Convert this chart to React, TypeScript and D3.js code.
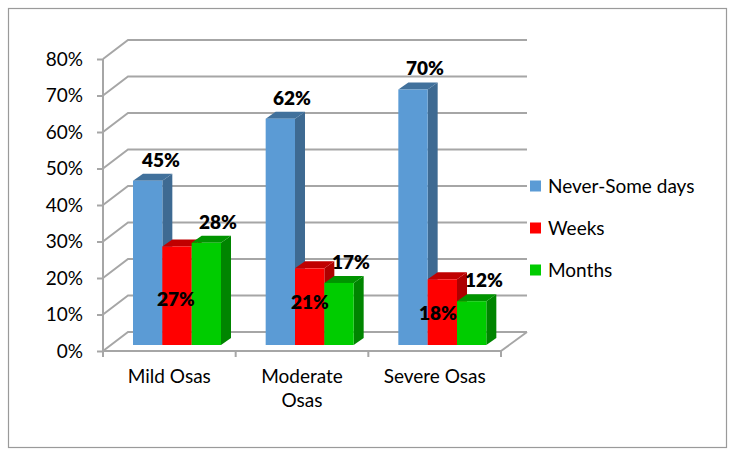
import * as d3 from 'd3';
import React, { useEffect, useRef } from 'react';

const categories = [['Mild Osas'], ['Moderate', 'Osas'], ['Severe Osas']];
const categoryKeys = ['Mild Osas', 'Moderate Osas', 'Severe Osas'];
const seriesNames = ['Never-Some days', 'Weeks', 'Months'];
const neverSomeDays = [45, 62, 70];
const weeks = [27, 21, 18];
const months = [28, 17, 12];
const yTicks = [0, 10, 20, 30, 40, 50, 60, 70, 80];

const seriesValues = [neverSomeDays, weeks, months];

// front, top, side
const seriesColors = [
  ['#5B9BD5', '#41719C', '#3E6A92'],
  ['#FF0000', '#C00000', '#AE0000'],
  ['#00CC00', '#009400', '#008500'],
];

const App: React.FC = () => {
  const svgRef = useRef<SVGSVGElement>(null);

  useEffect(() => {
    if (!svgRef.current) return;
    const svg = d3.select(svgRef.current);
    svg.selectAll('*').remove();

    const font = 'Lato, Carlito, sans-serif';
    const gridColor = '#A6A6A6';
    const left = 103;
    const right = 501;
    const axisY0 = 351;
    const axisY80 = 59;
    const depth = { x: 25, y: -19 };
    const barPlane = { x: 0, y: -6 };
    const barDepth = { x: 10, y: -7 };

    // frame
    svg.append('rect')
      .attr('x', 8.5)
      .attr('y', 8.5)
      .attr('width', 718)
      .attr('height', 439)
      .attr('fill', '#fff')
      .attr('stroke', '#9A9A9A')
      .attr('stroke-width', 1.2);

    const xScale = d3.scaleBand<string>()
      .domain(categoryKeys)
      .range([left, right]);

    const yScale = d3.scaleLinear()
      .domain([0, 80])
      .range([axisY0, axisY80]);

    const groupScale = d3.scaleBand<string>()
      .domain(seriesNames)
      .range([30, 118]);

    // back wall grid lines with the slanted side-wall part
    const line = d3.line();
    const grid = svg.append('g')
      .attr('fill', 'none')
      .attr('stroke', gridColor)
      .attr('stroke-width', 2);

    yTicks.forEach(t => {
      const y = yScale(t);
      grid.append('path').attr('d', line([
        [left, y],
        [left + depth.x, y + depth.y],
        [right + depth.x + 1, y + depth.y],
      ]));
    });

    // floor right edge + front axis + left axis
    grid.append('path').attr('d', line([
      [right, axisY0],
      [right + depth.x + 1, axisY0 + depth.y],
    ]));
    grid.append('path').attr('d', line([[left, axisY0], [right, axisY0]]));
    grid.append('path').attr('d', line([[left, axisY80], [left, axisY0]]));

    // y axis
    const yAxis = d3.axisLeft(yScale)
      .tickValues(yTicks)
      .tickSize(6)
      .tickPadding(14)
      .tickFormat(d => `${d}%`);

    const yG = svg.append('g')
      .attr('transform', `translate(${left},0)`)
      .call(yAxis);
    yG.select('.domain').remove();
    yG.selectAll('line').attr('stroke', gridColor).attr('stroke-width', 2);
    yG.selectAll('text')
      .attr('fill', '#000')
      .style('font-family', font)
      .style('font-size', '19px');

    // x axis ticks sit on the band edges
    const xEdges = [...categoryKeys.map(c => xScale(c) as number), right];
    xEdges.forEach(x => {
      grid.append('path').attr('d', line([[x, axisY0], [x, axisY0 + 6]]));
    });

    categories.forEach((lines, i) => {
      const cx = (xScale(categoryKeys[i]) as number) + xScale.bandwidth() / 2;
      lines.forEach((txt, j) => {
        svg.append('text')
          .attr('x', cx)
          .attr('y', 383 + j * 24)
          .attr('text-anchor', 'middle')
          .style('font-family', font)
          .style('font-size', '19px')
          .text(txt);
      });
    });

    // bars, back to front order is just series order here
    const barY = (v: number) => yScale(v) + barPlane.y;
    categoryKeys.forEach((cat, ci) => {
      seriesNames.forEach((name, si) => {
        const v = seriesValues[si][ci];
        const x0 = (xScale(cat) as number) + (groupScale(name) as number);
        const x1 = x0 + groupScale.bandwidth();
        const yTop = barY(v);
        const yBot = barY(0);
        const dx = barDepth.x;
        const dy = barDepth.y;
        const [front, top, side] = seriesColors[si];

        svg.append('path')
          .attr('fill', side)
          .attr('d', line([[x1, yTop], [x1 + dx, yTop + dy], [x1 + dx, yBot + dy], [x1, yBot]]));
        svg.append('path')
          .attr('fill', top)
          .attr('d', line([[x0, yTop], [x0 + dx, yTop + dy], [x1 + dx, yTop + dy], [x1, yTop]]));
        svg.append('rect')
          .attr('x', x0)
          .attr('y', yTop)
          .attr('width', x1 - x0)
          .attr('height', yBot - yTop)
          .attr('fill', front);
      });
    });

    // data labels (placed by hand in the original chart)
    const labelAt: number[][][] = [
      [[161, 160], [292, 98], [425, 68]],
      [[176, 299], [310, 302], [438, 313]],
      [[218, 222], [351, 262], [484, 280]],
    ];
    labelAt.forEach((row, si) => {
      row.forEach(([x, y], ci) => {
        svg.append('text')
          .attr('x', x)
          .attr('y', y)
          .attr('dy', '0.35em')
          .attr('text-anchor', 'middle')
          .style('font-family', font)
          .style('font-size', '19px')
          .style('font-weight', 800)
          .text(`${seriesValues[si][ci]}%`);
      });
    });

    // legend
    const legendScale = d3.scalePoint<string>()
      .domain(seriesNames)
      .range([186, 270]);

    seriesNames.forEach((name, si) => {
      const y = legendScale(name) as number;
      svg.append('rect')
        .attr('x', 530)
        .attr('y', y - 5.5)
        .attr('width', 11)
        .attr('height', 11)
        .attr('fill', seriesColors[si][0]);
      svg.append('text')
        .attr('x', 548)
        .attr('y', y)
        .attr('dy', '0.35em')
        .style('font-family', font)
        .style('font-size', '19px')
        .text(name);
    });
  }, []);

  return (
    <svg
      ref={svgRef}
      width={738}
      height={458}
      style={{ position: 'absolute', left: 0, top: 0, background: '#fff' }}
    />
  );
};

export default App;
